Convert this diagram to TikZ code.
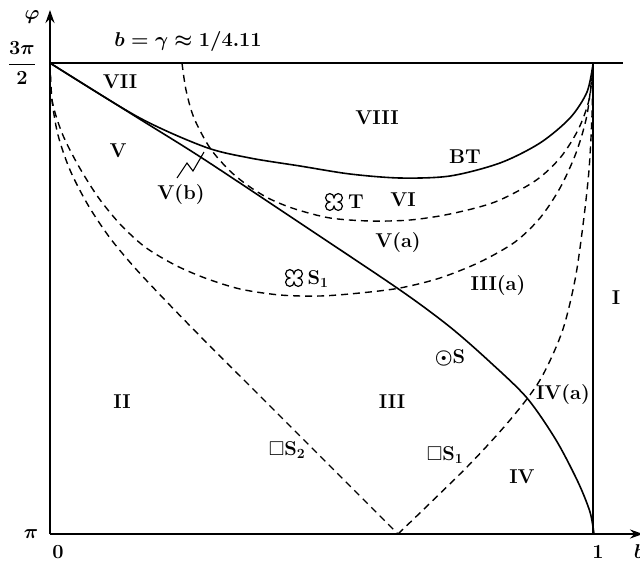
\RequirePackage{fix-cm}
\documentclass[tikz,border=0pt]{standalone}
\usepackage{amsmath,amssymb}
\usetikzlibrary{arrows.meta}
\tikzset{
  lbl/.style={font=\fontsize{20}{22}\selectfont\bfseries\boldmath, inner sep=0pt},
  axisline/.style={line width=2.2pt},
  frameline/.style={line width=1.8pt},
  bound/.style={line width=1.6pt},
  dsh/.style={line width=1.4pt, dash pattern=on 7pt off 5pt},
  clover/.pic={
    \draw[line width=1.2pt] (4.2,0) arc[start angle=-90,end angle=180,radius=4.2]
      arc[start angle=0,end angle=270,radius=4.2]
      arc[start angle=90,end angle=360,radius=4.2]
      arc[start angle=180,end angle=450,radius=4.2] -- cycle;
  }
}
\begin{document}
\begin{tikzpicture}[x=1pt,y=-1pt]
\useasboundingbox (0,0) rectangle (640,563);
\coordinate (O) at (50,534);
\coordinate (TL) at (50,63);
\coordinate (TR) at (593,63);
\coordinate (TE) at (623,63);
\coordinate (B1) at (593,534);
\coordinate (Vx) at (398,534);
\coordinate (YE) at (50,10);
\coordinate (XE) at (643,534);

% axes and frame
\draw[axisline,-{Stealth[length=13pt,width=9pt]}] (O) -- (YE);
\draw[axisline,-{Stealth[length=13pt,width=9pt]}] (O) -- (XE);
\draw[frameline] (TL) -- (TE);
\draw[frameline] (TR) -- (B1);

% solid separatrix line
\draw[bound] plot[smooth,tension=0.5] coordinates {(50,63) (138,118) (202,158) (300,223) (400,290) (450,327) (490,362) (527,398) (556,440) (578,482) (590,512) (594,534)};

% BT curve
\draw[bound] plot[smooth,tension=0.5] coordinates {(50,63) (138,117) (205,147) (250,158) (300,166) (350,174) (400,178) (450,176) (500,163) (540,143) (570,118) (587,92) (593,64)};

% T dashed curve
\draw[dsh] plot[smooth,tension=0.5] coordinates {(182,63) (186,90) (194,118) (210,148) (230,171) (250,187) (270,199) (295,209) (330,218) (370,221) (410,220) (450,214) (495,202) (535,181) (560,158) (578,130) (589,100) (593,66)};

% S1 dashed bowl
\draw[dsh] plot[smooth,tension=0.5] coordinates {(50,63) (52,100) (62,133) (78,165) (98,197) (120,224) (145,247) (175,265) (205,278) (240,289) (280,295) (320,296) (360,293) (400,288) (440,278) (480,262) (515,242) (540,218) (560,188) (576,153) (587,115) (593,66)};

% S2 dashed curve
\draw[dsh] plot[smooth,tension=0.5] coordinates {(50,63) (52,100) (58,135) (70,170) (88,205) (110,238) (135,268) (165,300) (200,336) (245,381) (320,456) (Vx)};

% IV(a) dashed curve
\draw[dsh] plot[smooth,tension=0.5] coordinates {(Vx) (467,467) (510,420) (540,380) (562,332) (575,280) (583,225) (589,170) (592,115) (593,66)};

% V(b) pointer
\coordinate (zz) at (204,152);
\draw[line width=1.1pt] (177,178) -- (187,163) -- (193,171) -- (zz);

% labels
\node[lbl] (phi) at (32,17) {$\varphi$};
\node[lbl] (ytop) at (22,63) {$\dfrac{3\pi}{2}$};
\node[lbl] (ypi) at (31,534) {$\pi$};
\node[lbl] (x0) at (58,552) {0};
\node[lbl] (x1) at (598,552) {1};
\node[lbl] (xb) at (639,552) {$b$};
\node[lbl] (gam) at (188,41) {$b=\gamma\approx1/4.11$};

\node[lbl] (VII) at (120,82) {VII};
\node[lbl] (VIII) at (377,118) {VIII};
\node[lbl] (Vr) at (118,151) {V};
\node[lbl] (Vb) at (181,195) {V(b)};
\node[lbl] (BT) at (465,157) {BT};
\node[lbl] (T) at (356,202) {T};
\pic at (334,202) {clover};
\node[lbl] (VI) at (403,200) {VI};
\node[lbl] (Va) at (398,243) {V(a)};
\node[lbl] (S1u) at (318,279) {S$_1$};
\pic at (294,278) {clover};
\node[lbl] (IIIa) at (498,286) {III(a)};
\node[lbl] (I) at (616,298) {I};
\node[lbl] (Sc) at (450,358) {$\odot$S};
\node[lbl] (IVa) at (563,395) {IV(a)};
\node[lbl] (II) at (122,402) {II};
\node[lbl] (III) at (392,402) {III};
\node[lbl] (S2) at (287,450) {$\square$S$_2$};
\node[lbl] (S1l) at (445,455) {$\square$S$_1$};
\node[lbl] (IV) at (522,477) {IV};
\end{tikzpicture}
\end{document}
